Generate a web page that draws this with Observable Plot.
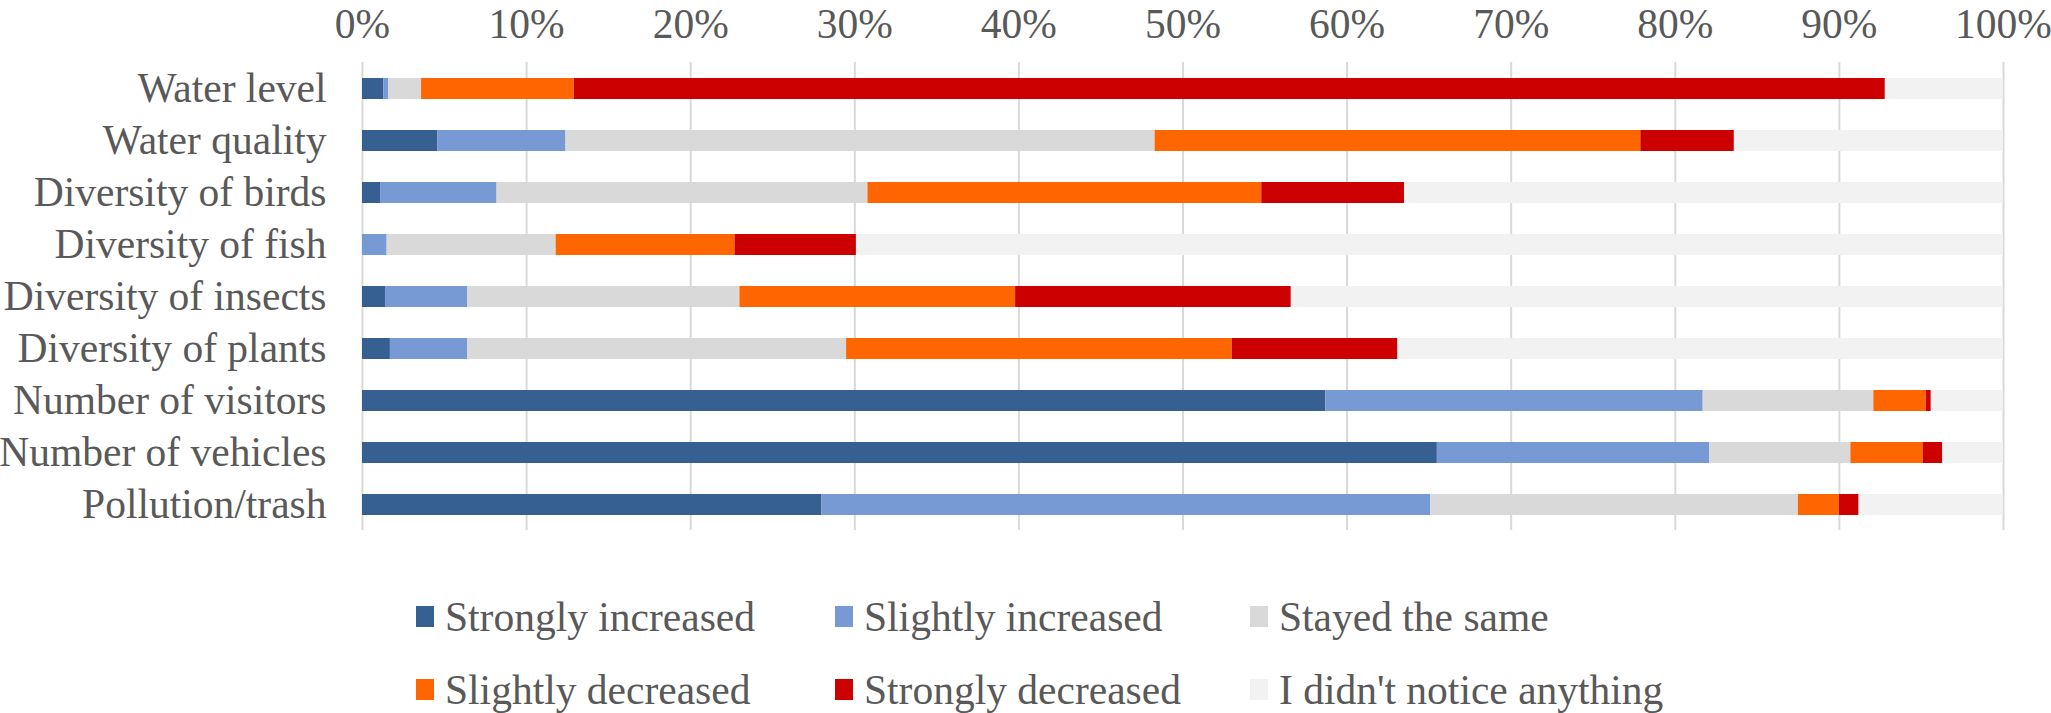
<!DOCTYPE html>
<html>
<head>
<meta charset="utf-8">
<script src="https://cdn.jsdelivr.net/npm/d3@7"></script>
<script src="https://cdn.jsdelivr.net/npm/@observablehq/plot@0.6"></script>
<style>
  html, body { margin: 0; padding: 0; background: #fff; }
  #chart svg { display: block; }
  .legend { display: grid; grid-template-columns: 419px 415px 415px; grid-auto-rows: 73px;
            padding-left: 416px; padding-top: 30px;
            font-family: "Liberation Serif", "Times New Roman", serif; font-size: 41.5px; color: #595959; }
  .item { display: flex; align-items: center; white-space: nowrap; }
  .sw { width: 18px; height: 21px; margin-right: 11px; flex: none; }
</style>
</head>
<body>
<div id="chart"></div>
<div class="legend" id="legend"></div>
<script>
const categories = ["Water level", "Water quality", "Diversity of birds", "Diversity of fish",
  "Diversity of insects", "Diversity of plants", "Number of visitors", "Number of vehicles", "Pollution/trash"];
const seriesNames = ["Strongly increased", "Slightly increased", "Stayed the same",
  "Slightly decreased", "Strongly decreased", "I didn't notice anything"];
const seriesColors = ["#376092", "#779AD4", "#D9D9D9", "#FF6600", "#CC0000", "#F2F2F2"];

const strongInc = [1.3, 4.6, 1.1, 0, 1.4, 1.7, 58.7, 65.5, 28.0];
const slightInc = [0.3, 7.8, 7.1, 1.5, 5.0, 4.7, 23.0, 16.6, 37.1];
const stayedSame = [2.0, 35.9, 22.6, 10.3, 16.6, 23.1, 10.4, 8.6, 22.4];
const slightDec = [9.3, 29.6, 24.0, 10.9, 16.8, 23.5, 3.2, 4.4, 2.5];
const strongDec = [79.9, 5.7, 8.7, 7.4, 16.8, 10.1, 0.3, 1.2, 1.2];
const noNotice = [7.2, 16.4, 36.5, 69.9, 43.4, 36.9, 4.4, 3.7, 8.8];
const xTicks = [0, 10, 20, 30, 40, 50, 60, 70, 80, 90, 100];

const seriesValues = [strongInc, slightInc, stayedSame, slightDec, strongDec, noNotice];
const data = [];
seriesNames.forEach((s, i) => categories.forEach((c, j) => data.push({category: c, series: s, value: seriesValues[i][j]})));

const chart = Plot.plot({
  width: 2051,
  height: 550,
  marginTop: 62,
  marginBottom: 20,
  marginLeft: 362,
  marginRight: 48,
  style: {fontFamily: '"Liberation Serif", "Times New Roman", serif', fontSize: "41.5px", color: "#595959", background: "#fff", overflow: "visible"},
  x: {domain: [0, 100]},
  y: {domain: categories, paddingInner: 0.6, paddingOuter: 0.3},
  color: {domain: seriesNames, range: seriesColors},
  marks: [
    Plot.gridX(xTicks, {stroke: "#D9D9D9", strokeWidth: 2, strokeOpacity: 1}),
    Plot.barX(data, {x: "value", y: "category", fill: "series", order: seriesNames}),
    Plot.axisX(xTicks, {anchor: "top", tickSize: 0, tickPadding: 25, tickFormat: d => d + "%", label: null}),
    Plot.axisY({tickSize: 0, tickPadding: 36, label: null})
  ]
});
document.getElementById("chart").append(chart);

const legend = document.getElementById("legend");
seriesNames.forEach((s, i) => {
  const item = document.createElement("div");
  item.className = "item";
  const sw = document.createElement("span");
  sw.className = "sw";
  sw.style.background = seriesColors[i];
  item.append(sw, document.createTextNode(s));
  legend.append(item);
});
</script>
</body>
</html>
